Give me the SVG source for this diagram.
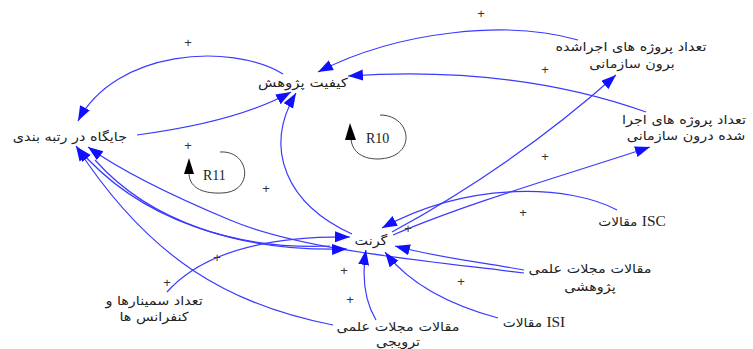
<svg xmlns="http://www.w3.org/2000/svg" width="753" height="349" viewBox="0 0 753 349">
<defs>
<marker id="ar" markerUnits="userSpaceOnUse" markerWidth="16" markerHeight="12" refX="15" refY="5.5" orient="auto">
<path d="M0,0 L15,5.5 L0,11 z" fill="#1010ff"/>
</marker>
<style>
.c{fill:none;stroke:#3a3aff;stroke-width:1.2;marker-end:url(#ar)}
.t{font-family:"DejaVu Sans",sans-serif;font-size:12.5px;fill:#222;text-anchor:middle}
.s{font-family:"Liberation Serif",serif;font-size:14px}
.p{font-family:"Liberation Sans",sans-serif;font-size:13px;fill:#333;text-anchor:middle}
.r{font-family:"Liberation Serif",serif;font-size:14px;fill:#222}
.l{fill:none;stroke:#444;stroke-width:1}
</style>
</defs>
<rect width="753" height="349" fill="#fff"/>
<g id="connectors">
<path class="c" d="M283,74 C230,42 115,50 78,121"/>
<path class="c" d="M137,135 C190,128 250,115 291,92"/>
<path class="c" d="M352,234 C288,205 262,150 296,93"/>
<path class="c" d="M578,40 C510,20 400,30 318,72"/>
<path class="c" d="M646,112 C570,85 470,68 348,76"/>
<path class="c" d="M392,232 Q515,165 616,75"/>
<path class="c" d="M393,235 C470,202 575,172 650,147"/>
<path class="c" d="M617,210 C570,185 470,180 382,228"/>
<path class="c" d="M524,270 C480,262 440,258 395,246"/>
<path class="c" d="M524,273 C420,260 300,250 230,220 C170,195 120,170 88,147"/>
<path class="c" d="M498,318 C450,305 410,285 385,252"/>
<path class="c" d="M376,320 C364,300 362,275 366,250"/>
<path class="c" d="M333,325 C230,305 150,260 76,146"/>
<path class="c" d="M167,292 C200,255 260,236 350,237"/>
<path class="c" d="M330,246 C240,250 140,222 77,147"/>
<path class="c" d="M95,160 C150,222 240,252 347,249"/>
</g>
<g id="loops">
<path class="l" d="M380,115 C412,115 418,158 378,159 C360,159 352,150 351,139"/>
<polygon points="350,123 345,140 356,140" fill="#000"/>
<text class="r" x="366" y="143">R10</text>
<path class="l" d="M220,152 C250,150 255,192 222,193 C200,194 189,186 189,173"/>
<polygon points="189,158 184,174 194,174" fill="#000"/>
<text class="r" x="203" y="180">R11</text>
</g>
<g id="n-keyfiyat"><text class="t" transform="translate(303,87) scale(1.2,1)">کیفیت پژوهش</text></g>
<g id="n-jaygah"><text class="t" transform="translate(70,141) scale(1.15,1)">جایگاه در رتبه بندی</text></g>
<g id="n-borun"><text class="t" transform="translate(631,51) scale(1.15,1)">تعداد پروژه های اجراشده</text><text class="t" transform="translate(632,68) scale(1.15,1)">برون سازمانی</text></g>
<g id="n-darun"><text class="t" transform="translate(684,124) scale(1.15,1)">تعداد پروژه های اجرا</text><text class="t" transform="translate(686,140) scale(1.15,1)">شده درون سازمانی</text></g>
<g id="n-grant"><text class="t" transform="translate(371,245) scale(1.15,1)">گرنت</text></g>
<g id="n-isc"><text class="t" transform="translate(632,226) scale(1.1,1)">مقالات <tspan class="s">ISC</tspan></text></g>
<g id="n-pazhuheshi"><text class="t" transform="translate(590,273) scale(1.15,1)">مقالات مجلات علمی</text><text class="t" transform="translate(590,291) scale(1.15,1)">پژوهشی</text></g>
<g id="n-isi"><text class="t" transform="translate(534,327) scale(1.1,1)">مقالات <tspan class="s">ISI</tspan></text></g>
<g id="n-tarvij"><text class="t" transform="translate(398,331) scale(1.15,1)">مقالات مجلات علمی</text><text class="t" transform="translate(398,346) scale(1.15,1)">ترویجی</text></g>
<g id="n-seminar"><text class="t" transform="translate(154,305) scale(1.15,1)">تعداد سمینارها و</text><text class="t" transform="translate(154,321) scale(1.15,1)">کنفرانس ها</text></g>
<g id="polarity">
<text class="p" x="188" y="47">+</text>
<text class="p" x="481" y="18">+</text>
<text class="p" x="545" y="74">+</text>
<text class="p" x="188" y="150">+</text>
<text class="p" x="545" y="161">+</text>
<text class="p" x="523" y="217">+</text>
<text class="p" x="408" y="233">+</text>
<text class="p" x="266" y="193">+</text>
<text class="p" x="217" y="262">+</text>
<text class="p" x="167" y="287">+</text>
<text class="p" x="344" y="275">+</text>
<text class="p" x="350" y="304">+</text>
<text class="p" x="461" y="286">+</text>
</g>
</svg>
